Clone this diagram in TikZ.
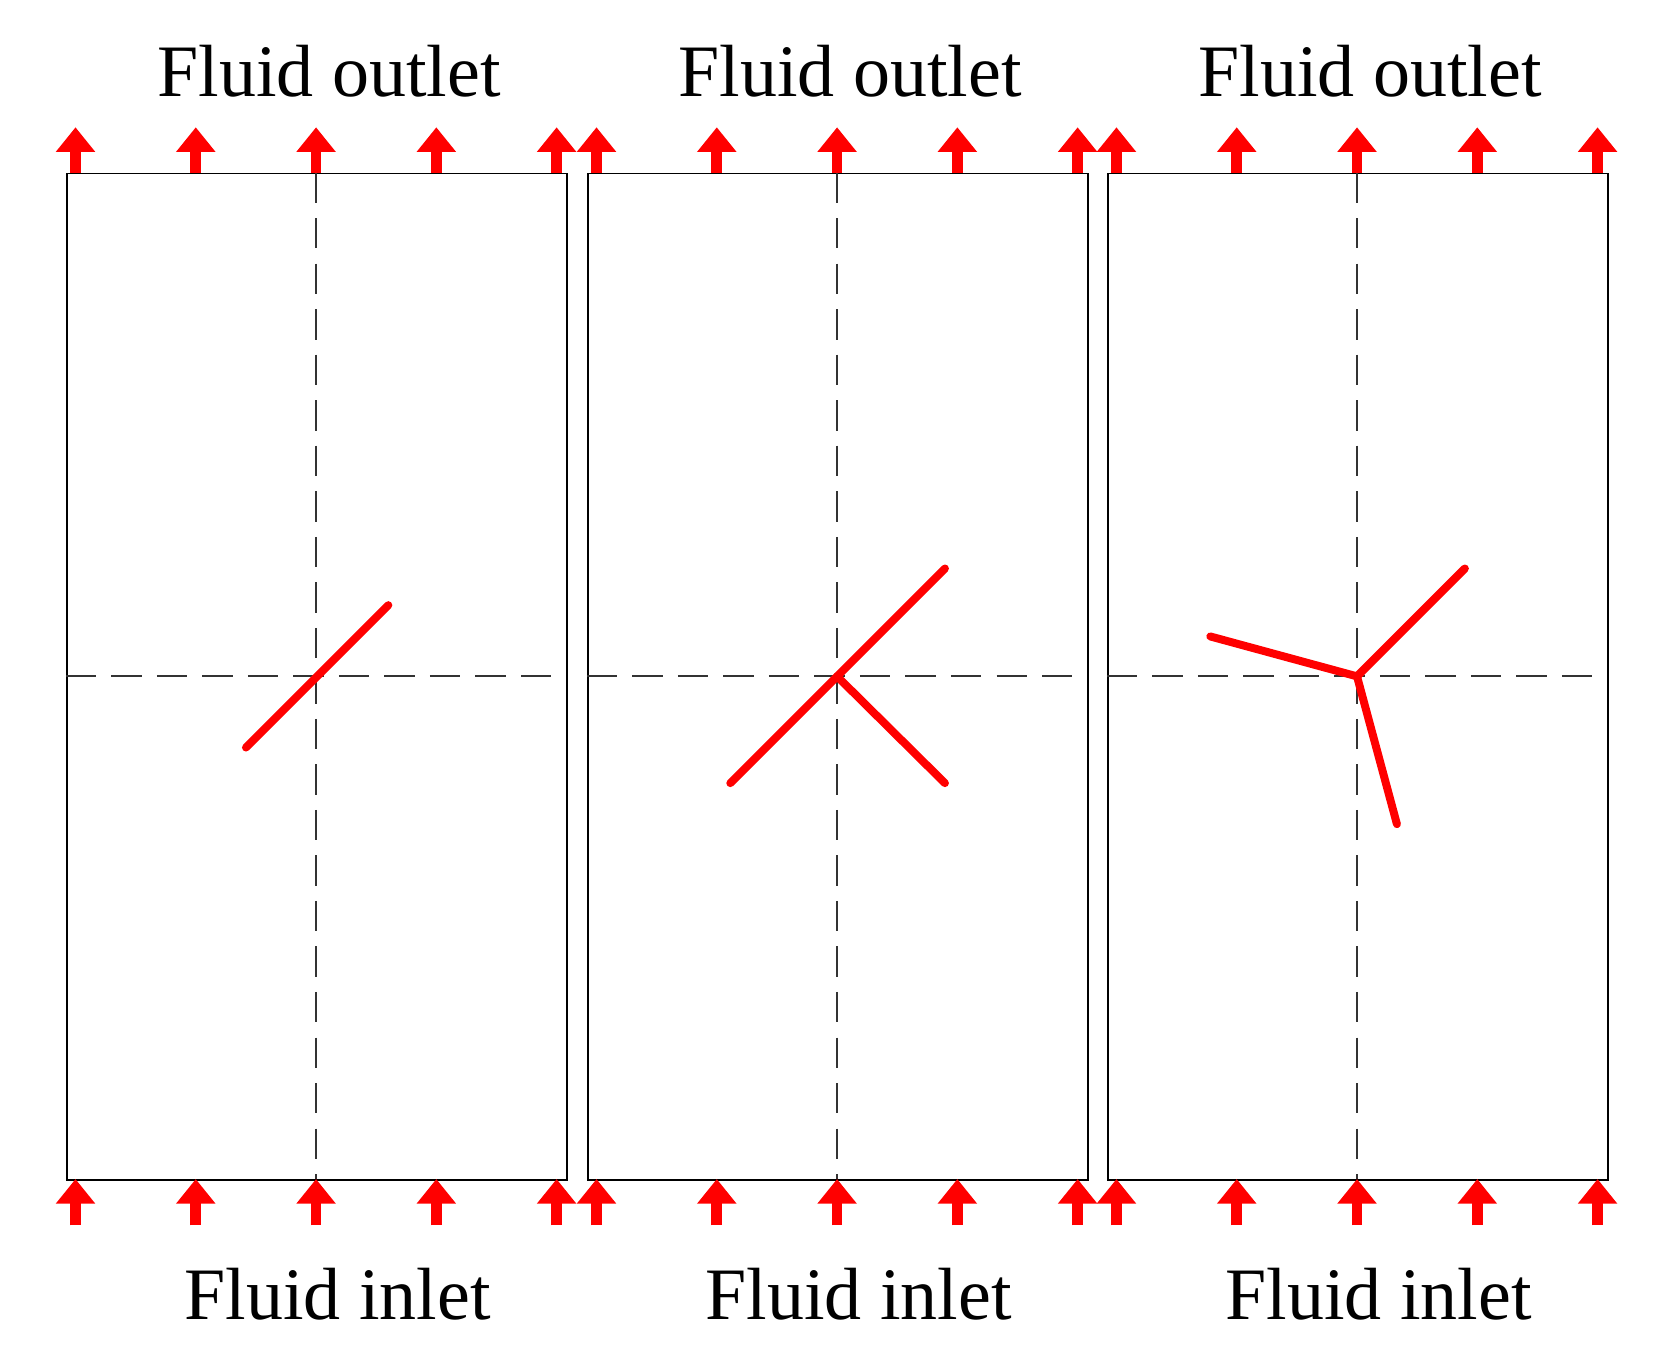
\documentclass[tikz,border=0pt]{standalone}
\usepackage{fontspec}
\setmainfont{Liberation Serif}
\usetikzlibrary{arrows.meta}
\begin{document}
\begin{tikzpicture}[x=0.01cm,y=-0.01cm,
  box/.style={draw=black,line width=0.5pt},
  axis/.style={draw=black!80,line width=0.5pt,dash pattern=on 8pt off 4pt},
  flow/.style={draw=red,line width=2.8pt,-{Triangle[width=10pt,length=6.5pt]}},
  rod/.style={draw=red,line width=2.1pt,line cap=round},
  lab/.style={font=\fontsize{19.5}{22}\selectfont}]
\useasboundingbox (0,0) rectangle (1550,1254);
\foreach \L/\i in {61/1,544/2,1026/3}{
  \pgfmathsetmacro\R{\L+464}
  \pgfmathsetmacro\C{\L+232}
  \node[box,minimum width=464*0.01cm,minimum height=933*0.01cm,anchor=north west,inner sep=0] (b\i) at (\L,160) {};
  \coordinate (ct\i) at (\C,160); \coordinate (cb\i) at (\C,1093);
  \coordinate (cl\i) at (\L,627); \coordinate (cr\i) at (\R,627);
  \draw[axis] (ct\i) -- (cb\i);
  \draw[axis] (cl\i) -- (cr\i);
  \foreach \k in {0,1,2,3,4}{
    \pgfmathsetmacro\xx{\L+9+111.5*\k}
    \coordinate (tu\i\k) at (\xx,160); \coordinate (th\i\k) at (\xx,118);
    \coordinate (bu\i\k) at (\xx,1136); \coordinate (bh\i\k) at (\xx,1093);
    \draw[flow] (tu\i\k) -- (th\i\k);
    \draw[flow] (bu\i\k) -- (bh\i\k);
  }
  \node[lab] (out\i) at (\C+12,66) {Fluid outlet};
  \node[lab] (in\i) at (\C+20,1200) {Fluid inlet};
}
\coordinate (p1a) at (228,693); \coordinate (p1b) at (360,561);
\draw[rod] (p1a) -- (p1b);
\coordinate (p2a) at (677,726); \coordinate (p2b) at (876,527);
\coordinate (p2c) at (776,627); \coordinate (p2d) at (876,726);
\draw[rod] (p2a) -- (p2b); \draw[rod] (p2c) -- (p2d);
\coordinate (p3o) at (1258,627); \coordinate (p3a) at (1358,527);
\coordinate (p3b) at (1122,590); \coordinate (p3c) at (1295,764);
\draw[rod] (p3o) -- (p3a); \draw[rod] (p3b) -- (p3o); \draw[rod] (p3o) -- (p3c);
\end{tikzpicture}
\end{document}
